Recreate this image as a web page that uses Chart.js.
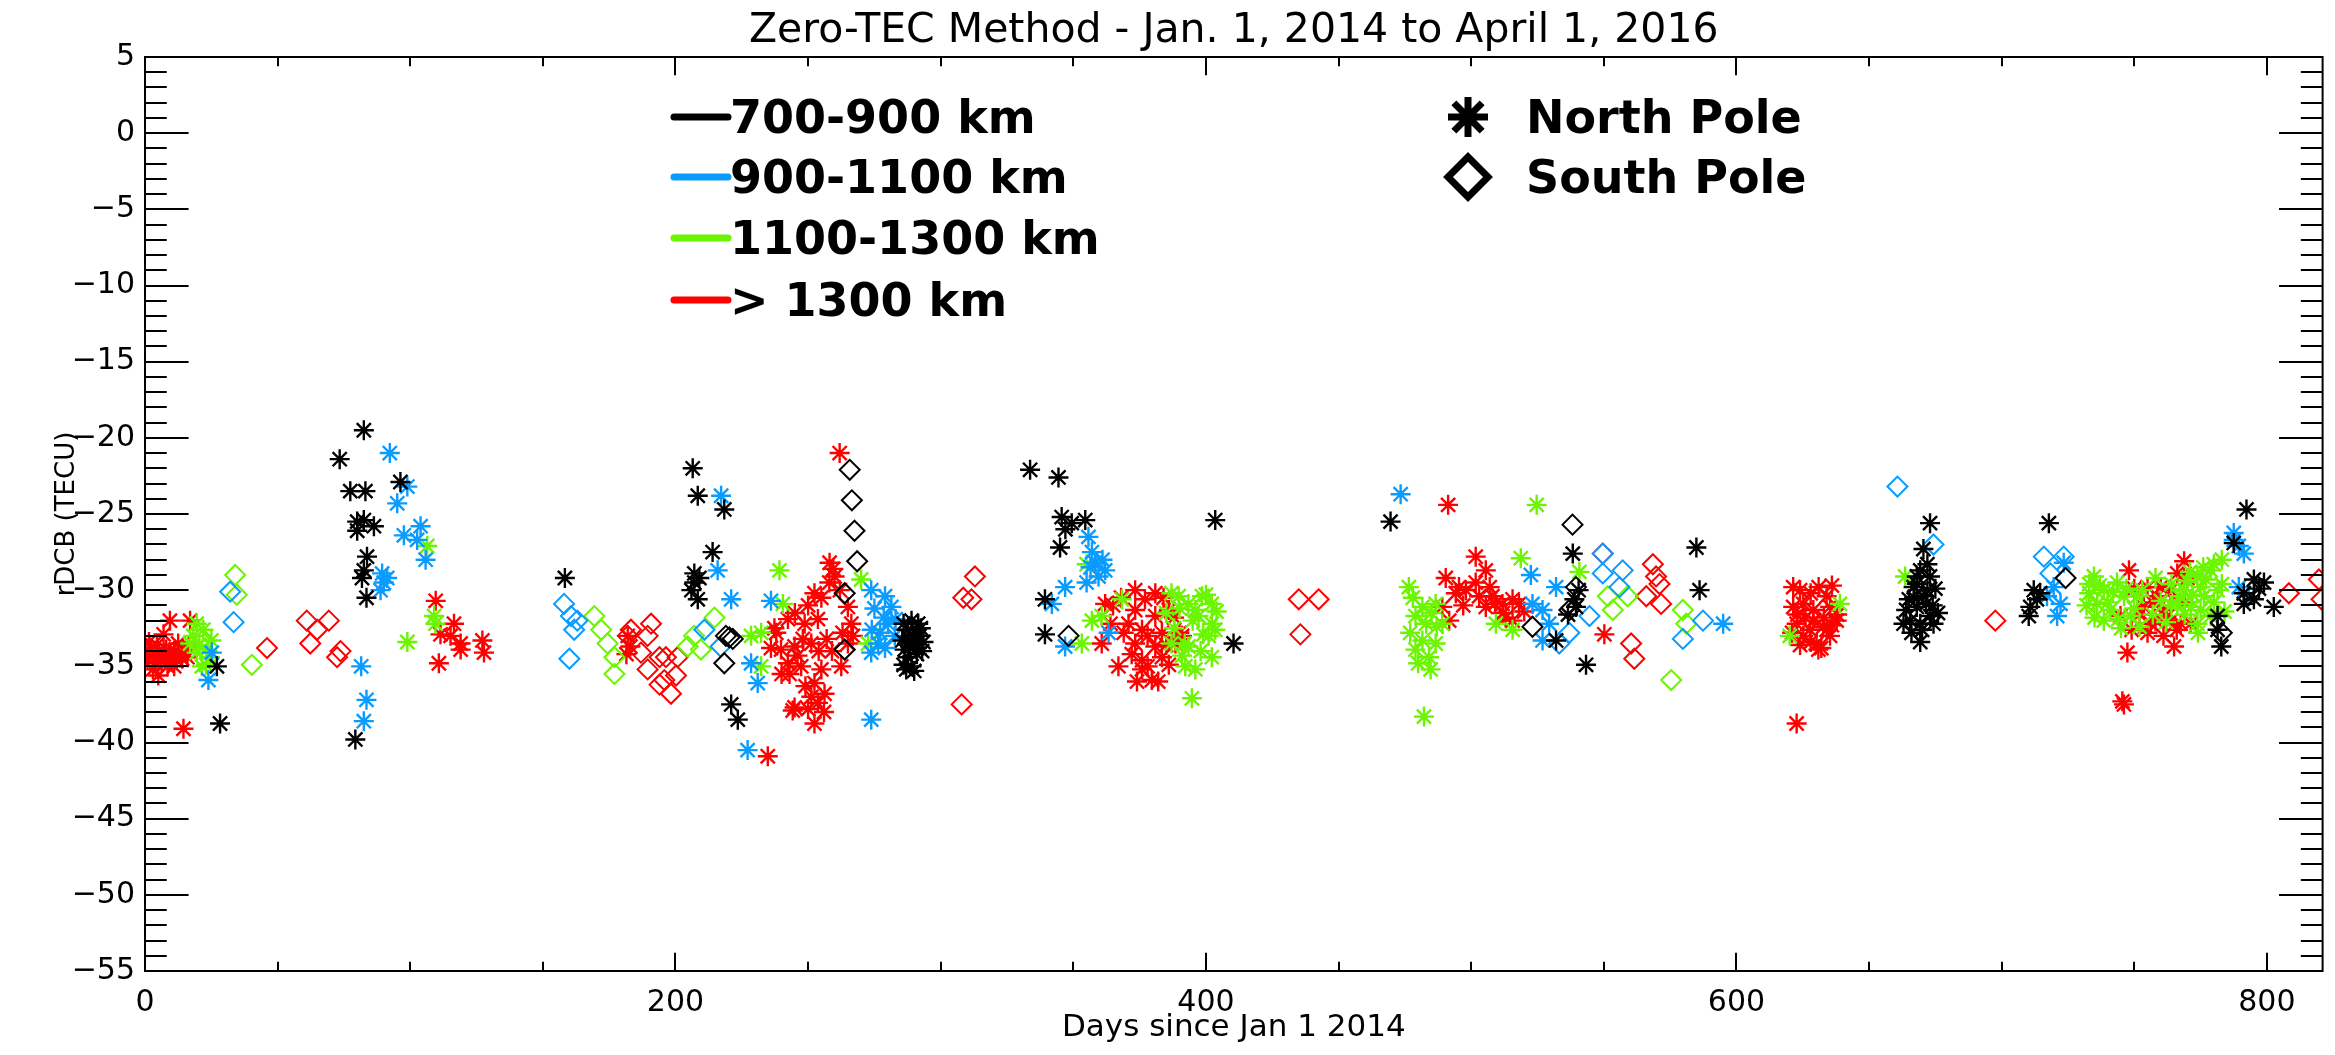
<!DOCTYPE html>
<html>
<head>
<meta charset="utf-8">
<title>Zero-TEC Method</title>
<script src="https://cdn.jsdelivr.net/npm/chart.js@4.4.1/dist/chart.umd.min.js"></script>
<style>
  html, body { margin: 0; padding: 0; background: #fff; }
</style>
</head>
<body>
<canvas id="rdcb" width="2335" height="1055"></canvas>
<script>
// rDCB estimates (day since 2014-01-01, TECU), split by altitude band and pole
const bands = ['700-900 km', '900-1100 km', '1100-1300 km', '> 1300 km'];
const poles = ['North Pole', 'South Pole'];
const dayTicks = [0, 200, 400, 600, 800];

const north700 = [
  [27.1,-35.0],[28.3,-38.75],[82.5,-19.5],[73.4,-21.4],[77.4,-23.5],[83.1,-23.5],[80,-25.5],[82.5,-25.4],
  [86.3,-25.8],[80,-26.1],[83.7,-27.8],[82.5,-28.7],[81.8,-29.2],[83.5,-30.5],[79.3,-39.8],[96.3,-22.9],
  [158.3,-29.2],[206.5,-22.0],[208.4,-23.8],[218.4,-24.7],[214,-27.5],[207.1,-28.9],[207.1,-29.5],[208.4,-30.6],
  [206,-30.0],[209,-29.2],[221,-37.5],[223.5,-38.5],[333.7,-22.1],[344.4,-22.6],[345.6,-25.2],[349.4,-25.6],
  [354.5,-25.4],[347,-26.0],[345,-27.2],[339.3,-30.6],[339.3,-32.9],
  [287.7,-32.6],[290.2,-33.5],[287.7,-34.4],[289,-35.0],[291.5,-32.2],[286.4,-33.9],[289.5,-33.0],[291,-34.2],
  [288.5,-33.7],[286,-32.2],[289,-32.0],[292,-33.0],[293,-34.0],[286,-34.9],[290,-35.3],[292.5,-32.5],
  [288,-33.1],[291,-33.8],[287,-35.2],[293.5,-33.4],[285.5,-33.3],
  [403.5,-25.4],[410.4,-33.5],[469.6,-25.5],[538.3,-27.6],[538.9,-30.6],[539.5,-31.1],[532,-33.3],[543.3,-34.9],
  [584.9,-27.2],[586.1,-30.0],[540.5,-30.0],[536.5,-31.6],
  [673,-25.6],[670.5,-27.3],[669.3,-28.7],[673,-29.1],[666.8,-29.8],[670.5,-30.4],[668,-31.1],[673,-31.7],
  [665.5,-32],[663,-32.2],[669.3,-32.2],[674.3,-32.2],[669.3,-33.4],[668,-29.1],[671.5,-30.9],[667,-30.5],
  [665,-30.6],[668,-29.6],[672,-28.3],[675,-29.9],[674,-31.0],[664,-31.3],[670,-32.6],[666,-32.8],
  [672,-30.0],[676,-31.5],
  [717.8,-25.6],[712.1,-30],[710.8,-31.1],[713.3,-30.6],[710.2,-31.7],[714.5,-30.2],[781.4,-31.7],[781.4,-32.6],
  [782.8,-33.7],[792.3,-24.7],[787.5,-26.9],[795.1,-29.3],[798.9,-29.5],[791.3,-30.2],[795.1,-30.6],[802.6,-31.1],
  [791.3,-30.9],[797,-29.9]
];
const south700 = [
  [219,-33],[221.6,-33.2],[218.4,-34.8],[220.3,-33.1],[263.8,-30.2],[263.8,-33.9],[265.7,-22.1],[266.5,-24.1],
  [267.5,-26.1],[268.5,-28.1],[348.2,-33.0],[538.2,-25.7],[539.5,-29.8],[537,-31.3],[523.1,-32.4],[724.1,-29.2],
  [783,-32.8]
];
const north900 = [
  [23.9,-35.9],[25.2,-34.1],[92.3,-21.0],[98.9,-23.2],[95.1,-24.3],[97.6,-26.4],[103.9,-25.8],[102.6,-26.7],
  [105.8,-28.0],[89.4,-28.9],[90,-29.5],[88.8,-30],[91.3,-29.2],[81.5,-35.0],[83.5,-37.2],[82.5,-38.6],
  [217.2,-23.8],[215.9,-28.7],[221,-30.6],[228.5,-34.8],[231,-36.1],[227.2,-40.5],[236,-30.7],[273.8,-30],
  [281.4,-31.1],[280.1,-32.2],[276.4,-33.5],[273.8,-34.1],[282.7,-33.0],[273.8,-38.5],[278.5,-31.8],[277.2,-32.8],
  [275,-31.2],[279,-30.4],[283,-31.9],[274,-32.6],[279,-33.8],
  [355.7,-26.5],[358.2,-28.2],[362,-28.7],[359.5,-29.1],[346.9,-29.8],[341.9,-30.9],[346.9,-33.7],[363.3,-32.8],
  [356.5,-28.5],[357,-27.5],[361,-28.0],[355,-29.5],
  [473.4,-23.7],[522.5,-29.0],[523.1,-30.9],[526.9,-31.3],[532,-29.8],[529.4,-32.2],[526.9,-33.3],
  [595,-32.2],[723.4,-28.2],[719.6,-29.8],[722.2,-30.9],[720.9,-31.7],[717.1,-30.4],[787.5,-26.25],[789.4,-27.1],
  [791.3,-27.6],[787.5,-26.7],[789.4,-29.8],[793.2,-30.4]
];
const south900 = [
  [32.1,-30.1],[33.4,-32.1],[158,-30.9],[160.6,-31.7],[163,-32],[161.8,-32.6],[160,-34.5],[210.9,-32.6],
  [217,-33.7],[549.6,-28.9],[557.1,-28.7],[555.9,-29.8],[544.6,-31.7],[533.2,-33.5],[537,-32.8],[579.8,-33.2],
  [587.4,-32.0],[549.6,-27.6],[660.7,-23.2],[674.3,-27.0],[715.9,-27.8],[723.4,-27.8],[718.4,-28.9]
];
const north1100 = [
  [19.5,-32.2],[22,-32.6],[17,-33.5],[19.5,-34.1],[23.3,-33.9],[21.4,-35.0],[24.5,-34.4],[18.2,-33.0],
  [20.5,-33.6],[23,-34.9],[25,-33.3],
  [98.9,-33.4],[109,-31.7],[106.4,-27.1],[109.5,-32.2],[239.2,-28.7],[240.5,-30.9],[232.3,-32.8],[228.5,-33],
  [232.3,-35.0],[270,-29.3],[272.6,-33.5],[355,-28.3],[357,-32],[353.2,-33.5],[368.3,-30.6],[360.7,-31.7],
  [389.7,-30.4],[385,-31.5],[388,-32.5],[392,-33.5],[395,-32],[398,-34],[393.4,-30.9],[398.5,-30.4],
  [402.2,-30.9],[397.2,-31.7],[402.2,-32.2],[401,-33.0],[403.5,-32.6],[402.2,-34.4],[393.4,-33.7],[392.2,-35.0],
  [394.7,-37.1],[396,-31.3],[387,-30.2],[390,-31.2],[400,-30.3],[404,-31.4],[399,-32.9],[391,-34.3],
  [396,-35.2],[387,-33.5],
  [476.5,-29.8],[481.6,-31.1],[486.6,-30.9],[479,-31.7],[489.1,-32.2],[481.6,-33.3],[479,-33.9],[486.6,-33.5],
  [484.1,-34.4],[484.7,-35.2],[482.2,-38.3],[478,-30.5],[483,-32.2],[487,-32.4],[480,-34.8],[477,-32.8],
  [485,-31.5],
  [524.7,-24.4],[518.7,-27.9],[509.3,-32.2],[515.6,-32.6],[540.8,-28.8],[620.1,-33],[639,-30.9],[663.6,-29.1],
  [734.8,-29.1],[738.5,-30],[736,-30.9],[741,-31.3],[746.1,-30.4],[743.5,-29.5],[751.1,-30.4],[738.5,-32],
  [748.6,-31.7],[768.8,-30],[773.8,-29.1],[778.8,-28.7],[776.3,-30.4],[771.3,-31.1],[781.4,-30],[773.8,-32.2],
  [766.2,-30.9],[778.8,-31.7],[733,-30.2],[740,-30.8],[775,-29.8],[770,-29.4],
  [732,-31.0],[735,-31.8],[737,-29.7],[742,-30.1],[744,-31.9],[747,-29.9],[750,-31.2],[753,-30.0],
  [757,-31.6],[760,-30.7],[764,-29.6],[762,-32.1],[767,-30.4],[769,-31.6],[772,-30.3],[775,-31.3],
  [777,-29.3],[780,-30.8],[783,-29.6],[784,-31.4],[771,-28.8],[776,-28.5],[780,-28.3],[783,-28.0],
  [745,-32.5],[752,-32.4],[733,-29.6],[758,-29.2],[774,-32.8],[764,-31.0]
];
const south1100 = [
  [34,-29.0],[34.6,-30.3],[40.3,-34.9],[169.4,-31.7],[172,-32.6],[174.4,-33.5],[177,-34.4],[177,-35.5],
  [207,-33.0],[209.6,-33.9],[204.6,-33.7],[214.7,-31.8],[551.5,-30.4],[559,-30.4],[553.4,-31.3],[579.8,-31.3],
  [581.1,-32.2],[575.4,-35.9]
];
const north1300 = [
  [0,-34.0],[1,-34.5],[2,-33.8],[3,-34.3],[4,-34.8],[5,-34.0],[6,-34.5],[7,-34.2],[8,-33.9],[9,-34.6],
  [10,-34.3],[11,-34.0],[12,-34.6],[13,-34.2],[14,-34.5],[15,-34.0],[16,-34.4],[7,-32.9],[9.4,-32.0],[17,-32.0],
  [5,-35.6],[14.5,-39.1],[1.5,-33.4],[4.5,-33.6],[8.5,-35.0],[12.5,-33.5],[16.5,-33.7],[3,-35.2],[11,-35.0],
  [109.6,-30.7],[116.5,-32.2],[115.2,-33.0],[119,-33.5],[111.4,-32.9],[127.2,-33.3],
  [127.8,-34.1],[119,-33.9],[110.8,-34.8],[182,-33.0],[183,-33.7],[181.5,-34.2],
  [261.9,-21.0],[258.1,-28.2],[260,-29.1],[252.4,-30.2],[265,-31.1],[266.3,-32.2],[242.4,-31.9],[248.7,-32.2],
  [253.7,-31.9],[239.8,-33.9],[244.9,-33.7],[251.2,-33.5],[242.4,-34.8],[247.4,-35.0],[255,-35.2],[252.4,-36.1],
  [251.2,-37.0],[256.2,-36.8],[253.7,-37.4],[244.9,-37.7],[244.2,-37.9],[252.4,-38.75],[234.8,-40.9],[265,-33.5],
  [266.9,-33.0],[237.3,-32.5],[245,-31.5],[250,-31.0],[255,-30.5],[258,-29.5],[262,-30.0],[263,-32.8],
  [257,-33.2],[248,-33.2],[243,-35.5],[249,-36.3],[254,-34.0],[246,-34.3],[240,-35.5],[256,-38.0],
  [250,-37.8],[259,-34.0],[262.5,-35.0],[238,-32.8],[236,-33.8],[259.5,-28.6],
  [362,-30.9],[373.3,-30],[380.9,-30.2],[373.3,-31.3],[380.9,-31.7],[386,-31.3],[375.9,-32.6],[383.4,-32.8],
  [373.3,-33.5],[380.9,-33.7],[388.5,-33.5],[375.9,-34.6],[383.4,-34.4],[360.7,-33.5],[367,-35.0],[379.6,-35.9],
  [375.9,-35.2],[370.8,-32.2],[365,-31.0],[368,-30.5],[377,-30.6],[384,-30.5],[388,-31.8],[390,-32.8],
  [369,-32.8],[378,-33.0],[385,-33.6],[372,-34.2],[378,-35.0],[386,-34.9],[364,-32.2],[382,-36.0],
  [374,-36.0],[391,-33.0],
  [491.3,-24.4],[501.7,-27.8],[505.5,-28.7],[490.4,-29.2],[495.4,-29.8],[494.2,-30.2],[501.7,-29.5],[508,-30.4],
  [515.6,-30.6],[505.5,-31.1],[511.8,-30.9],[518,-30.9],[515.6,-32],[491.7,-32],[489.1,-31.1],[550.2,-32.9],
  [512,-31.5],[509,-30.9],[497,-31.0],[503,-30.4],[498,-30.0],[513,-31.8],[520,-31.4],[507,-29.8],
  [621.4,-29.8],[625.2,-30.9],[634,-30.4],[621.4,-31.1],[629,-31.3],[635.3,-31.1],[622.7,-32.2],[627.7,-32.6],
  [632.7,-32.4],[625.2,-33],[630.2,-33.5],[635.3,-33],[637.8,-32],[630.9,-33.9],[622.7,-38.75],
  [624,-30.0],[628,-30.2],[631,-29.8],[636,-29.7],[633,-31.8],[638,-31.6],[623,-31.6],[626,-31.8],
  [629,-32.0],[621,-32.8],[634,-32.6],[628,-33.4],[636,-32.3],[632,-33.8],[624,-33.6],
  [748,-28.7],[768.8,-28.1],[766.2,-28.9],[755,-29.8],[758.7,-30.4],[763.7,-30],[753.6,-31.1],[761.2,-31.3],
  [744.8,-31.7],[756.2,-32.2],[763.7,-32],[767.5,-32.2],[771.3,-32.2],[765,-33.7],[747.4,-34.1],[746.1,-37.5],
  [745.5,-37.3],[750,-29.9],[757,-30.8],[760,-29.8],[752,-31.6],[758,-32.0],[762,-31.8],[765,-30.7],
  [769,-30.8],[770,-29.2],[755,-32.8],[761,-33.0],[749,-32.6],[766,-32.6]
];
const south1300 = [
  [46,-33.8],[61,-32],[69.3,-32],[64.9,-32.6],[62.3,-33.5],[73.7,-34.0],[72.4,-34.4],[182,-33],
  [183.2,-32.6],[190.8,-32.2],[189.5,-33.0],[187,-34.1],[189.5,-35.2],[194,-36.2],[194,-34.4],[196.4,-34.4],
  [200.8,-34.4],[200.2,-35.6],[198.3,-36.8],[195.8,-35.9],[312.9,-29.1],[308.5,-30.5],[311.6,-30.6],[307.9,-37.5],
  [435,-30.6],[442.5,-30.6],[435.6,-32.9],[549.6,-27.6],[568.5,-28.3],[569.7,-29.1],[571,-29.6],[566,-30.4],
  [571.6,-30.9],[560.3,-33.5],[561.5,-34.5],[697.6,-32.0],[808.3,-30.2],[819.6,-29.3],[820.6,-30.6]
];

const bandColors = ['#000000', '#0a9bff', '#6cf500', '#ff0000'];
const northSets = [north700, north900, north1100, north1300];
const southSets = [south700, south900, south1100, south1300];

const toXY = arr => arr.map(p => ({ x: p[0], y: p[1] }));

const datasets = [];
bands.forEach((name, i) => {
  datasets.push({
    label: name + ' ' + poles[0],
    data: toXY(northSets[i]),
    pointStyle: 'star',
    pointRadius: 10,
    pointBorderWidth: 2.4,
    borderColor: bandColors[i],
    backgroundColor: 'rgba(0,0,0,0)',
    showLine: false
  });
  datasets.push({
    label: name + ' ' + poles[1],
    data: toXY(southSets[i]),
    pointStyle: 'rectRot',
    pointRadius: 10,
    pointBorderWidth: 2,
    borderColor: bandColors[i],
    backgroundColor: 'rgba(0,0,0,0)',
    showLine: false
  });
});

const FONT = '"DejaVu Sans", sans-serif';

// IDL-style frame: full box with ticks pointing inward on all four sides
const frame = {
  id: 'frame',
  afterDatasetsDraw(chart) {
    const { ctx, chartArea: a, scales: { x, y } } = chart;
    const w = a.right - a.left, h = a.bottom - a.top;
    const yLen = w * 0.02, xLen = h * 0.02;
    ctx.save();
    ctx.strokeStyle = '#000';
    ctx.lineWidth = 2;
    ctx.strokeRect(a.left, a.top, w, h);
    ctx.beginPath();
    for (let v = y.min; v <= y.max; v += 1) {
      const p = Math.round(y.getPixelForValue(v));
      const len = v % 5 === 0 ? yLen : yLen / 2;
      ctx.moveTo(a.left, p); ctx.lineTo(a.left + len, p);
      ctx.moveTo(a.right, p); ctx.lineTo(a.right - len, p);
    }
    for (let d = x.min; d <= x.max; d += 50) {
      const p = Math.round(x.getPixelForValue(d));
      const len = d % 200 === 0 ? xLen : xLen / 2;
      ctx.moveTo(p, a.bottom); ctx.lineTo(p, a.bottom - len);
      ctx.moveTo(p, a.top); ctx.lineTo(p, a.top + len);
    }
    ctx.stroke();
    ctx.restore();
  }
};

// title and the two legend blocks inside the plot
const annotations = {
  id: 'annotations',
  afterDraw(chart) {
    const { ctx, chartArea: a } = chart;
    ctx.save();
    ctx.fillStyle = '#000';
    ctx.textAlign = 'center';
    ctx.textBaseline = 'alphabetic';
    ctx.font = '41px ' + FONT;
    ctx.fillText('Zero-TEC Method - Jan. 1, 2014 to April 1, 2016', (a.left + a.right) / 2, 42);

    ctx.textAlign = 'left';
    ctx.font = 'bold 46px ' + FONT;
    const rows = [117, 177, 238, 300];
    bands.forEach((name, i) => {
      ctx.strokeStyle = bandColors[i];
      ctx.lineWidth = 7;
      ctx.lineCap = 'round';
      ctx.beginPath();
      ctx.moveTo(674, rows[i]);
      ctx.lineTo(728, rows[i]);
      ctx.stroke();
      ctx.fillStyle = '#000';
      ctx.fillText(name, 730, rows[i] + 16);
    });

    ctx.lineCap = 'butt';
    ctx.strokeStyle = '#000';
    const styles = ['star', 'rectRot'];
    poles.forEach((name, i) => {
      ctx.fillStyle = 'rgba(0,0,0,0)';
      Chart.helpers.drawPoint(ctx, { pointStyle: styles[i], radius: 20, rotation: 0, borderWidth: 2 }, 1468, rows[i]);
      ctx.fillStyle = '#000';
      ctx.fillText(name, 1526, rows[i] + 16);
    });
    ctx.restore();
  }
};

new Chart(document.getElementById('rdcb'), {
  type: 'scatter',
  data: { datasets },
  options: {
    responsive: false,
    animation: false,
    devicePixelRatio: 1,
    events: [],
    layout: { padding: { top: 57, right: 12, left: 0, bottom: 0 } },
    plugins: { legend: { display: false }, tooltip: { enabled: false }, title: { display: false } },
    scales: {
      x: {
        type: 'linear',
        min: 0,
        max: 821,
        grid: { display: false, drawTicks: false },
        border: { display: false },
        afterBuildTicks(scale) { scale.ticks = dayTicks.map(v => ({ value: v })); },
        ticks: {
          color: '#000',
          padding: 14,
          maxRotation: 0,
          autoSkip: false,
          font: { family: FONT, size: 30 }
        },
        title: {
          display: true,
          text: 'Days since Jan 1 2014',
          color: '#000',
          font: { family: FONT, size: 31 },
          padding: { top: 0, bottom: 8 }
        },
        afterFit(scale) { scale.height = 84; }
      },
      y: {
        min: -55,
        max: 5,
        grid: { display: false, drawTicks: false },
        border: { display: false },
        ticks: {
          stepSize: 5,
          color: '#000',
          padding: 10,
          font: { family: FONT, size: 30 },
          callback: v => String(v).replace('-', '\u2212')
        },
        title: {
          display: true,
          text: 'rDCB (TECU)',
          color: '#000',
          font: { family: FONT, size: 26 },
          padding: { top: 52, bottom: 0 }
        },
        afterFit(scale) { scale.width = 145; }
      }
    }
  },
  plugins: [frame, annotations]
});
</script>
</body>
</html>
